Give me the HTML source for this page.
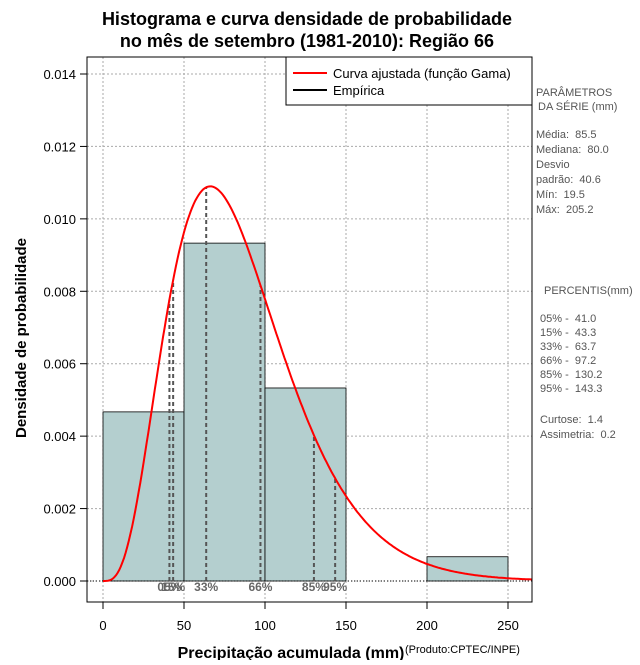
<!DOCTYPE html>
<html><head><meta charset="utf-8"><style>
body{margin:0;background:#fff;}
svg text{font-family:"Liberation Sans",sans-serif;white-space:pre;}
</style></head><body>
<svg id="chart" width="640" height="660" xmlns="http://www.w3.org/2000/svg">
<rect width="640" height="660" fill="#fff"/>
<text x="307" y="25" text-anchor="middle" font-size="18" font-weight="bold">Histograma e curva densidade de probabilidade</text>
<text x="307" y="47" text-anchor="middle" font-size="18" font-weight="bold">no mês de setembro (1981-2010): Região 66</text>
<g id="grid"></g>
<g id="bars"></g>
<g id="pct"></g>
<path id="curve" fill="none" stroke="#ff0000" stroke-width="2"/>
<g id="axes"></g>
<rect x="87" y="57" width="445" height="545" fill="none" stroke="#000"/>
<g>
<rect x="286" y="57" width="246" height="48" fill="#fff" stroke="#000"/>
<line x1="293" y1="73" x2="327" y2="73" stroke="#ff0000" stroke-width="2"/>
<text x="333" y="78" font-size="13">Curva ajustada (função Gama)</text>
<line x1="293" y1="90" x2="327" y2="90" stroke="#000" stroke-width="2"/>
<text x="333" y="95" font-size="13">Empírica</text>
</g>
<g font-size="11" fill="#555">
<text x="536" y="96">PARÂMETROS</text><text x="538" y="110">DA SÉRIE (mm)</text>
<text x="536" y="138">Média:  85.5</text><text x="536" y="153">Mediana:  80.0</text>
<text x="536" y="168">Desvio</text><text x="536" y="183">padrão:  40.6</text>
<text x="536" y="198">Mín:  19.5</text><text x="536" y="213">Máx:  205.2</text>
<text x="544" y="294">PERCENTIS(mm)</text>
<text x="540" y="322">05% -  41.0</text><text x="540" y="336">15% -  43.3</text>
<text x="540" y="350">33% -  63.7</text><text x="540" y="364">66% -  97.2</text>
<text x="540" y="378">85% -  130.2</text><text x="540" y="392">95% -  143.3</text>
<text x="540" y="423">Curtose:  1.4</text><text x="540" y="438">Assimetria:  0.2</text>
</g>
<text x="291" y="658" text-anchor="middle" font-size="16" font-weight="bold">Precipitação acumulada (mm)</text>
<text x="405" y="653" font-size="11">(Produto:CPTEC/INPE)</text>
<text transform="translate(26,338) rotate(-90)" text-anchor="middle" font-size="15" font-weight="bold">Densidade de probabilidade</text>
</svg>
<script>
const binStarts=[0,50,100,150,200];
const binDensity=[0.00467,0.00933,0.00533,0,0.00067];
const binWidth=50;
const gammaShape=4.435;
const gammaScale=19.28;
const pctLabels=["05%","15%","33%","66%","85%","95%"];
const pctValues=[41.0,43.3,63.7,97.2,130.2,143.3];
const xTicks=[0,50,100,150,200,250];
const yTicks=[0,0.002,0.004,0.006,0.008,0.010,0.012,0.014];
const NS="http://www.w3.org/2000/svg";
const X=v=>103+v*1.62;
const Y=v=>581-v*(507/0.014);
function mk(t,a,p){const e=document.createElementNS(NS,t);for(const k in a)e.setAttribute(k,a[k]);p.appendChild(e);return e;}
function lgamma(z){const g=7,c=[0.99999999999980993,676.5203681218851,-1259.1392167224028,771.32342877765313,-176.61502916214059,12.507343278686905,-0.13857109526572012,9.9843695780195716e-6,1.5056327351493116e-7];z-=1;let x=c[0];for(let i=1;i<9;i++)x+=c[i]/(z+i);const t=z+g+0.5;return 0.5*Math.log(2*Math.PI)+(z+0.5)*Math.log(t)-t+Math.log(x);}
const lg=lgamma(gammaShape);
function dens(x){if(x<=0)return 0;return Math.exp((gammaShape-1)*Math.log(x)-x/gammaScale-lg-gammaShape*Math.log(gammaScale));}
const grid=document.getElementById('grid'),bars=document.getElementById('bars'),pct=document.getElementById('pct'),axes=document.getElementById('axes');
xTicks.forEach(t=>{const l=mk('line',{x1:X(t),x2:X(t),y1:57,y2:602,stroke:'#aaa','stroke-dasharray':'2,2'},grid);
const k=mk('line',{x1:X(t),x2:X(t),y1:602,y2:609,stroke:'#000'},axes);
const tx=mk('text',{x:X(t),y:630,'text-anchor':'middle','font-size':13},axes);tx.textContent=t;});
yTicks.forEach(t=>{const l=mk('line',{x1:87,x2:532,y1:Y(t),y2:Y(t),stroke:'#aaa','stroke-dasharray':'2,2'},grid);
const k=mk('line',{x1:80,x2:87,y1:Y(t),y2:Y(t),stroke:'#000'},axes);
const tx=mk('text',{x:76,y:Y(t)+5,'text-anchor':'end','font-size':13},axes);tx.textContent=t.toFixed(3);});
binStarts.forEach((b,i)=>{const d=binDensity[i];if(d<=0)return;const r=mk('rect',{x:X(b),y:Y(d),width:X(b+binWidth)-X(b),height:Y(0)-Y(d),fill:'#b4cfcf',stroke:'#000','stroke-width':0.8},bars);});
const bl=mk('line',{x1:87,x2:532,y1:Y(0),y2:Y(0),stroke:'#000','stroke-dasharray':'1,2'},bars);
pctValues.forEach((v,i)=>{const l=mk('line',{x1:X(v),x2:X(v),y1:Y(0),y2:Y(dens(v)),stroke:'#555','stroke-width':2,'stroke-dasharray':'4,3'},pct);
const t=mk('text',{x:X(v),y:591,'text-anchor':'middle','font-size':12,'font-weight':'bold',fill:'#666'},pct);t.textContent=pctLabels[i];});
let d='';for(let x=0;x<=265;x+=1){d+=(x?'L':'M')+X(x).toFixed(1)+','+Y(dens(x)).toFixed(1);}
document.getElementById('curve').setAttribute('d',d);
</script>
</body></html>
